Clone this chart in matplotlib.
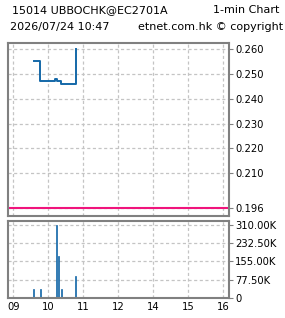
import matplotlib
matplotlib.use("Agg")
import matplotlib.pyplot as plt
from matplotlib.ticker import FixedLocator

# trades (1-min), price line drawn as steps
price_times = ["09:35", "09:45", "10:12", "10:15", "10:22", "10:47"]
prices = [0.255, 0.247, 0.248, 0.247, 0.246, 0.260]

vol_times = ["09:35", "09:46", "10:14", "10:17", "10:22", "10:47"]
volumes = [39000, 39000, 310000, 179000, 39000, 91000]

prev_close = 0.196

price_ticks = [0.260, 0.250, 0.240, 0.230, 0.220, 0.210, 0.196]
vol_ticks = [0, 77500, 155000, 232500, 310000]
vol_labels = ["0", "77.50K", "155.00K", "232.50K", "310.00K"]
hour_labels = ["09", "10", "11", "12", "14", "15", "16"]


def to_x(t):
    # hours, with the lunch hour (12-13) cut out
    h, m = t.split(":")
    x = int(h) + int(m) / 60
    if int(h) >= 13:
        x -= 1
    return x


hour_pos = [to_x(h + ":00") for h in hour_labels]
px = [to_x(t) for t in price_times]
vx = [to_x(t) for t in vol_times]

grey = "#808080"
grid_col = "#c4c4c4"
blue = "#1468a8"
fs = 7.2
hfs = 8

fig = plt.figure(figsize=(2.85, 3.18), dpi=100)
ax1 = fig.add_axes([8 / 285, 1 - 216 / 318, 221 / 285, 173 / 318])
ax2 = fig.add_axes([8 / 285, 1 - 298 / 318, 221 / 285, 77 / 318])

for ax in (ax1, ax2):
    ax.set_xlim(8.849, 15.163)
    ax.xaxis.set_major_locator(FixedLocator(hour_pos))
    for s in ax.spines.values():
        s.set_color(grey)
        s.set_linewidth(1.5)
    ax.yaxis.tick_right()
    ax.tick_params(axis="y", length=3, width=0.8, color=grey, labelsize=fs, pad=1.5)
    ax.tick_params(axis="x", length=0)
    ax.grid(True, color=grid_col, linestyle=(0, (2.5, 2)), linewidth=0.9)
    ax.set_axisbelow(True)

ax1.set_ylim(0.1928, 0.2624)
ax1.yaxis.set_major_locator(FixedLocator(price_ticks))
ax1.set_yticklabels(["%.3f" % p for p in price_ticks])
ax1.set_xticklabels([])
ax1.axhline(prev_close, color="#f0147c", linewidth=1.5)
ax1.step(px, prices, where="post", color=blue, linewidth=1.4)

ax2.set_ylim(0, 325700)
ax2.yaxis.set_major_locator(FixedLocator(vol_ticks))
ax2.set_yticklabels(vol_labels)
ax2.bar(vx, volumes, width=0.035, color=blue, edgecolor=blue, linewidth=0.5)
ax2.set_xticklabels(hour_labels, fontsize=fs)
ax2.tick_params(axis="x", pad=3)

fig.text(12 / 285, 1 - 10 / 318, "15014 UBBOCHK@EC2701A", fontsize=hfs, va="center")
fig.text(279 / 285, 1 - 10 / 318, "1-min Chart", fontsize=hfs, va="center", ha="right")
fig.text(10 / 285, 1 - 27 / 318, "2026/07/24 10:47", fontsize=hfs, va="center")
fig.text(283 / 285, 1 - 27 / 318, "etnet.com.hk \u00a9 copyright", fontsize=hfs, va="center", ha="right")

fig.savefig("out.png", dpi=100)
